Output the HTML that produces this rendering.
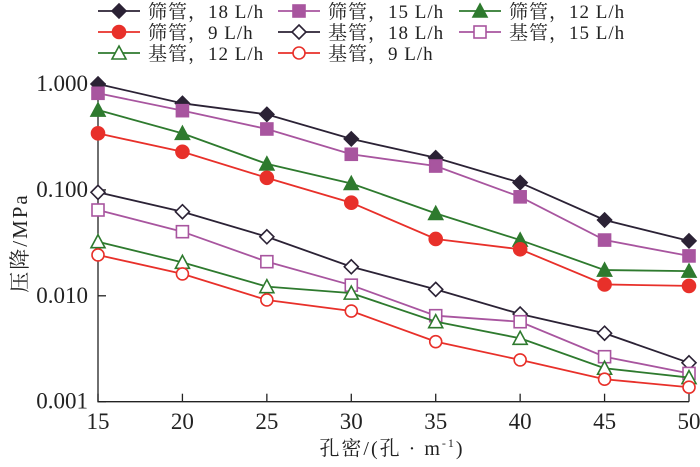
<!DOCTYPE html>
<html><head><meta charset="utf-8"><style>
body{margin:0;background:#fff}
svg text{font-family:"Liberation Serif","Noto Serif CJK SC",serif;fill:#222}
</style></head><body>
<svg id="chart" width="700" height="462" xmlns="http://www.w3.org/2000/svg"></svg>
<script>
const xCats = [15,20,25,30,35,40,45,50];
const yTicks = [0.001,0.01,0.1,1];
const yTickLabels = ["0.001","0.010","0.100","1.000"];
const seriesNames = ["筛管，18 L/h","筛管，15 L/h","筛管，12 L/h","筛管，9 L/h","基管，18 L/h","基管，15 L/h","基管，12 L/h","基管，9 L/h"];
const s18 = [1.0,0.657,0.517,0.303,0.201,0.117,0.052,0.033];
const s15 = [0.817,0.56,0.376,0.217,0.168,0.086,0.0336,0.0238];
const s12 = [0.568,0.342,0.176,0.115,0.060,0.0336,0.0175,0.0171];
const s9 = [0.342,0.229,0.130,0.0757,0.0344,0.0275,0.0128,0.0124];
const b18 = [0.0949,0.0622,0.0361,0.0188,0.0115,0.00673,0.00443,0.00233];
const b15 = [0.0646,0.0403,0.0210,0.0126,0.00649,0.00569,0.00266,0.00185];
const b12 = [0.0324,0.0207,0.0122,0.0106,0.0057,0.00397,0.00207,0.00169];
const b9 = [0.0243,0.0161,0.00913,0.00718,0.00369,0.00248,0.00163,0.00137];
const allSeries = [s18,s15,s12,s9,b18,b15,b12,b9];
const colors = ["#2b2235","#a8559f","#2e7a2e","#e8302a","#2b2235","#a8559f","#2e7a2e","#e8302a"];
const markers = ["diamond","square","triangle","circle","diamond","square","triangle","circle"];
const filled = [true,true,true,true,false,false,false,false];

const NS="http://www.w3.org/2000/svg";
const svg=document.getElementById('chart');
function mk(tag,attrs,parent){const e=document.createElementNS(NS,tag);for(const k in attrs)e.setAttribute(k,attrs[k]);(parent||svg).appendChild(e);return e;}
const X0=98,X1=689,Y0=401.7,DEC=105.9;
function xs(v){return X0+(v-15)/(50-15)*(X1-X0);}
function ys(v){return Y0-(Math.log10(v)+3)*DEC;}

const ax=mk('path',{d:`M${X0},${ys(1)-2} V${Y0} H${X1}`,fill:'none',stroke:'#222','stroke-width':1.3});


yTicks.forEach((t,i)=>{
  const y=ys(t);
  const tk=mk('line',{x1:X0,x2:X0+8,y1:y,y2:y,stroke:'#222','stroke-width':1.3});
  
  
  const tl=mk('text',{x:X0-10,y:y+7,'text-anchor':'end','font-size':23});
  tl.textContent=yTickLabels[i];
  
  
});
xCats.forEach(c=>{
  const x=xs(c);
  const tk=mk('line',{x1:x,x2:x,y1:Y0,y2:Y0-8,stroke:'#222','stroke-width':1.3});
  
  
  const tl=mk('text',{x:x,y:429,'text-anchor':'middle','font-size':23});
  tl.textContent=c;
  
  
});
const xt=mk('text',{x:392,y:455,'text-anchor':'middle','font-size':20,'letter-spacing':2});
xt.innerHTML='孔密/(孔 · m<tspan dy="-8" font-size="12">-1</tspan><tspan dy="8">)</tspan>';


const yt=mk('text',{x:0,y:0,'text-anchor':'middle','font-size':21,'letter-spacing':2,transform:'translate(27,243) rotate(-90)'});
yt.textContent='压降/MPa';



function marker(type,x,y,color,fill,parent){
  const f=fill?color:'#fff';const a={fill:f,stroke:color,'stroke-width':1.6};
  let e;
  if(type==='diamond'){e=mk('path',Object.assign({d:`M${x},${y-7}L${x+7},${y}L${x},${y+7}L${x-7},${y}Z`},a),parent);}
  else if(type==='square'){e=mk('rect',Object.assign({x:x-6,y:y-6,width:12,height:12},a),parent);}
  else if(type==='triangle'){e=mk('path',Object.assign({d:`M${x},${y-7}L${x+7},${y+6}L${x-7},${y+6}Z`},a),parent);}
  else {e=mk('circle',Object.assign({cx:x,cy:y,r:fill?6.5:6},a),parent);}
  return e;
}
allSeries.forEach((vals,si)=>{
  const g=mk('g',{});
  
  
  const d=vals.map((v,i)=>(i?'L':'M')+xs(xCats[i])+','+ys(v)).join('');
  const ln=mk('path',{d:d,fill:'none',stroke:colors[si],'stroke-width':1.8},g);
  
  
  vals.forEach((v,i)=>{
    const m=marker(markers[si],xs(xCats[i]),ys(v),colors[si],filled[si],g);
    
    
  });
});
const lcols=[98,278,459],lrows=[11,32,53];
seriesNames.forEach((n,i)=>{
  const lx=lcols[i%3],ly=lrows[Math.floor(i/3)];
  const g=mk('g',{});
  
  
  mk('line',{x1:lx,x2:lx+42,y1:ly,y2:ly,stroke:colors[i],'stroke-width':1.8},g);
  marker(markers[i],lx+21,ly,colors[i],filled[i],g);
  const t=mk('text',{x:lx+50,y:ly+7,'font-size':19,'letter-spacing':1},g);
  t.textContent=n;
});
</script>
</body></html>
